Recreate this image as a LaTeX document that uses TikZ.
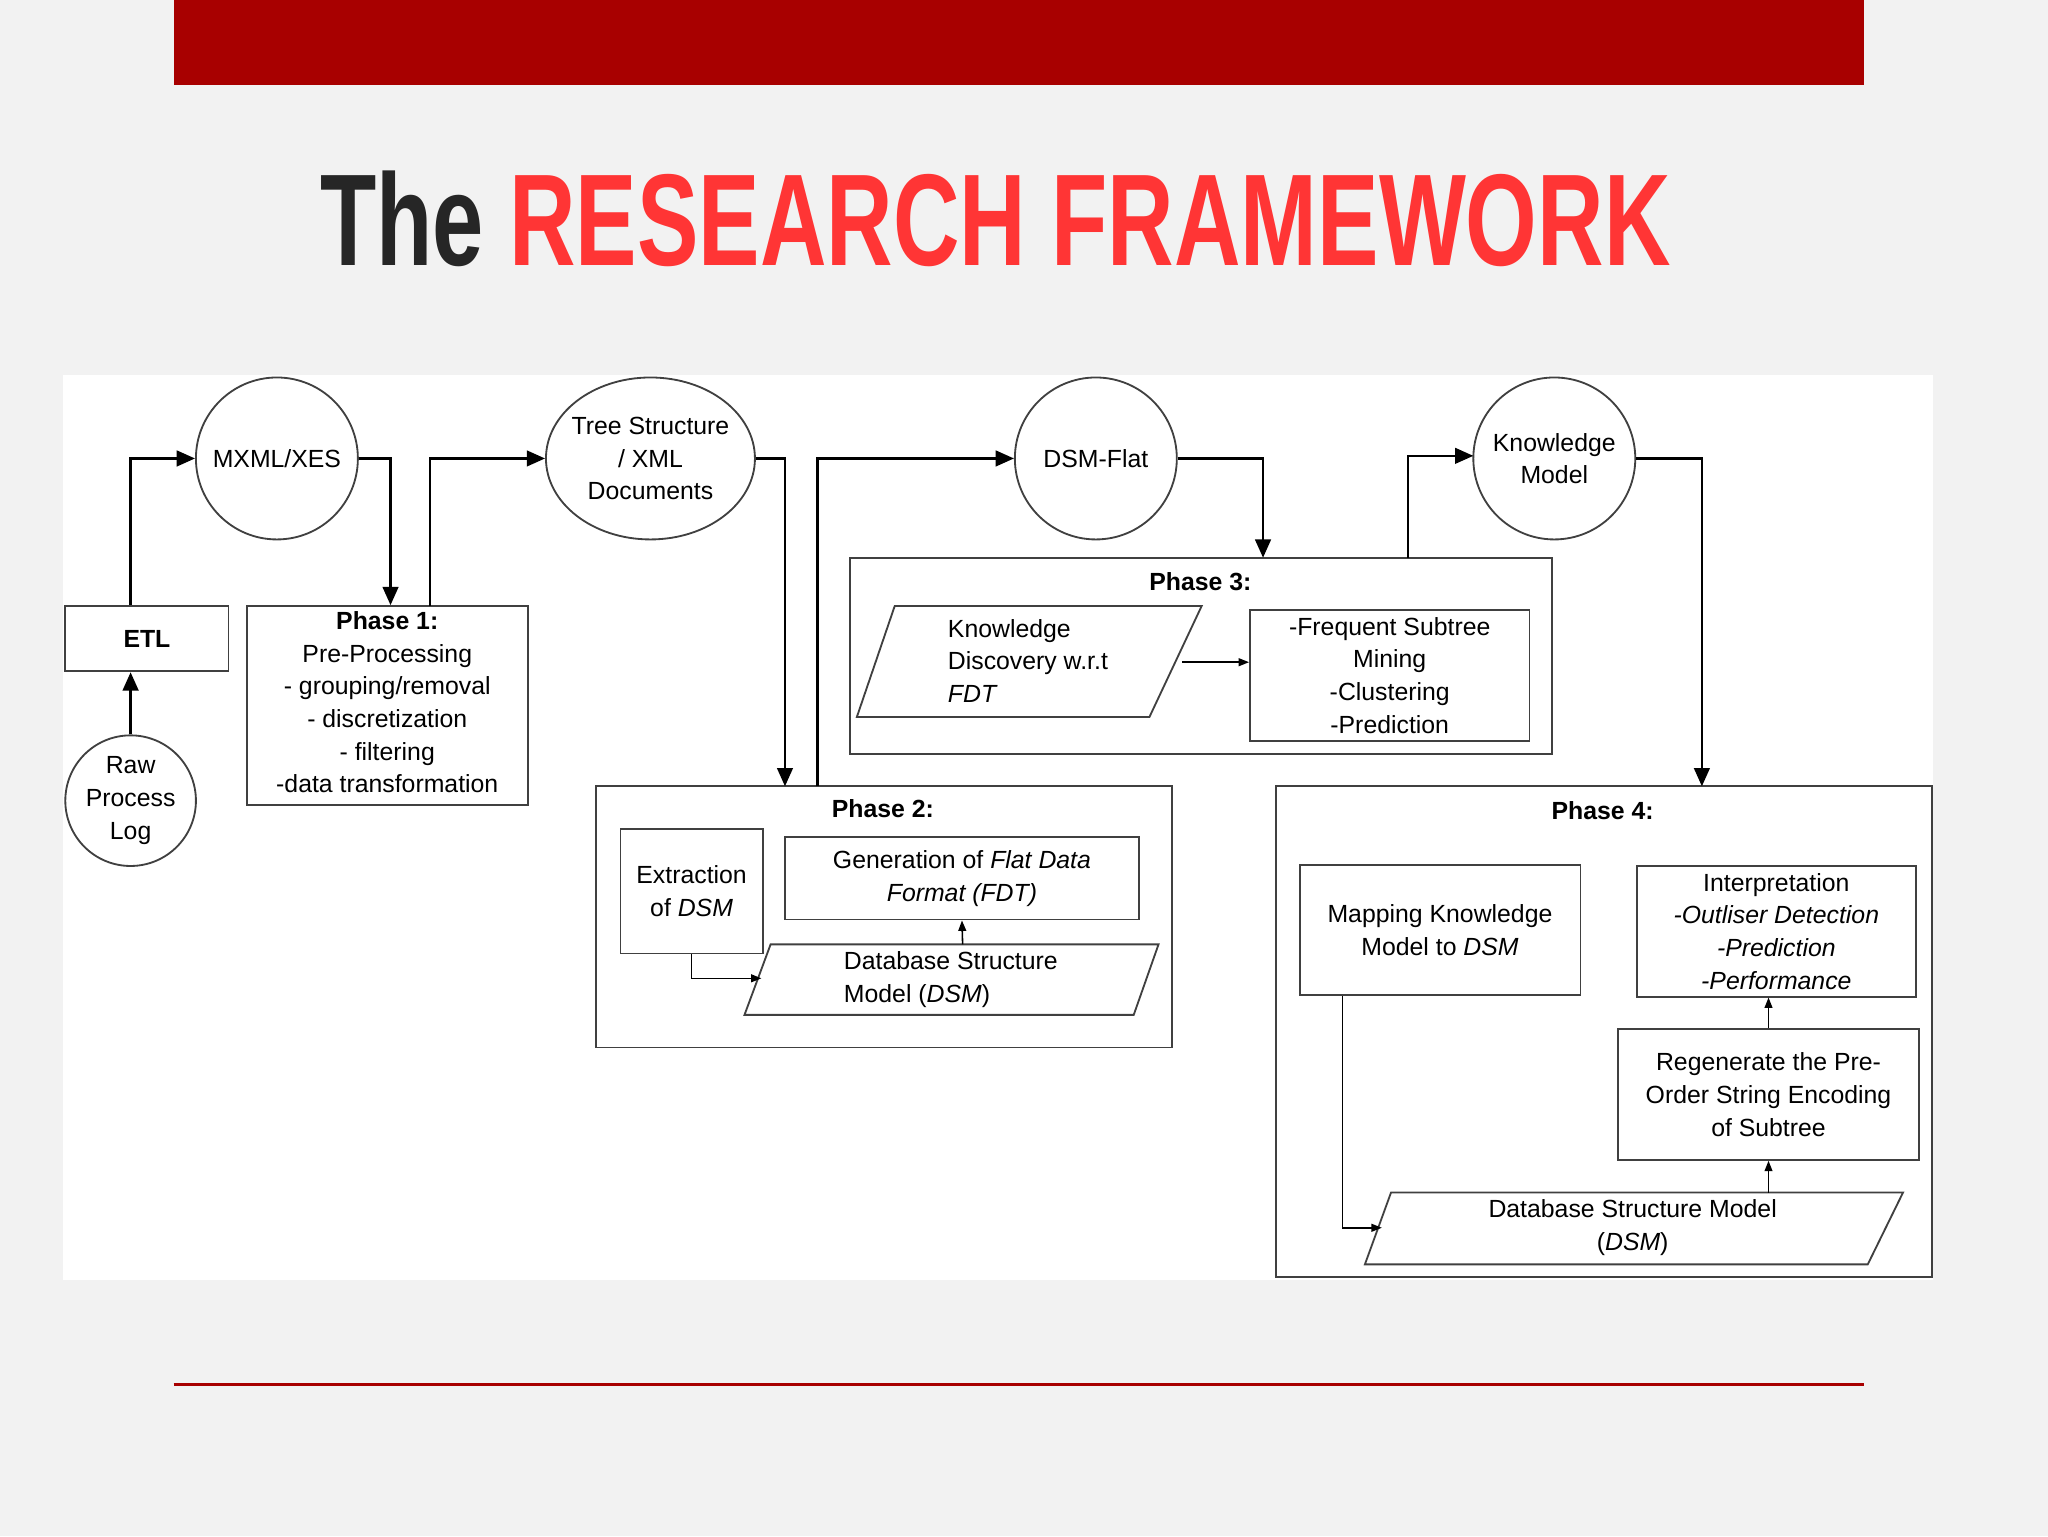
\documentclass[tikz,border=0pt]{standalone}
\usepackage{fontspec}
\setmainfont{Liberation Sans}
\usetikzlibrary{arrows.meta,shapes.geometric}
\definecolor{barred}{HTML}{A80000}
\definecolor{titlered}{HTML}{FF3535}
\begin{document}
\begin{tikzpicture}[x=1pt,y=-1pt,
  box/.style={draw=black!75,line width=1.4pt,align=center,inner sep=0pt,font=\fontsize{19}{25}\selectfont},
  circ/.style={draw=black!75,line width=1.4pt,circle,minimum size=124pt,align=center,inner sep=0pt,font=\fontsize{19}{25}\selectfont},
  txt/.style={align=center,inner sep=0pt,font=\fontsize{19}{25}\selectfont},
  big/.style={line width=1.8pt,-{Triangle[length=14pt,width=12pt]}},
  small/.style={line width=1.2pt,-{Triangle[length=8pt,width=6pt]}}]
\useasboundingbox (0,0) rectangle (1568,1176);
\fill[gray!10] (0,0) rectangle (1568,1176);
\fill[barred] (133,0) rectangle (1427,65);
\draw[barred,line width=3pt] (133,1060) -- (1427,1060);
\node[anchor=base west,inner sep=0pt,font=\bfseries\fontsize{100}{100}\selectfont,xscale=0.705] (title) at (245,203)
  {\color{black!85}The \color{titlered}RESEARCH FRAMEWORK};
\fill[white] (48,287) rectangle (1480,980);

% circles
\node[circ] (mx) at (212,351) {MXML/XES};
\node[box,ellipse,minimum width=160pt,minimum height=124pt,inner sep=-4pt] (tree) at (498,351) {Tree Structure\\/ XML\\Documents};
\node[circ] (dsm) at (839,351) {DSM-Flat};
\node[circ] (km) at (1190,351) {Knowledge\\Model};
\node[circ,minimum size=100pt] (raw) at (100,613) {Raw\\Process\\Log};

% boxes
\node[box,minimum width=125pt,minimum height=50pt,font=\bfseries\fontsize{19}{25}\selectfont] (etl) at (112.5,489) {ETL};
\node[box,minimum width=215pt,minimum height=152pt] (p1) at (296.5,540) {};
\node[txt,anchor=north] at (296.5,468) {\textbf{Phase 1:}\\Pre-Processing\\- grouping/removal\\- discretization\\- filtering\\-data transformation};

\node[box,minimum width=441pt,minimum height=200pt] (p2) at (676.5,702) {};
\node[txt,font=\bfseries\fontsize{19}{25}\selectfont] at (676,619) {Phase 2:};
\node[box,minimum width=109pt,minimum height=95pt] (ext) at (529.5,682.5) {Extraction\\of \textit{DSM}};
\node[box,minimum width=271pt,minimum height=63pt] (gen) at (736.5,672.5) {Generation of \textit{Flat Data}\\\textit{Format (FDT)}};
\draw[black!75,line width=1.4pt] (590,723) -- (887,723) -- (868,777) -- (570,777) -- cycle;
\node[txt,align=left] (db) at (728,750) {Database Structure\\Model (\textit{DSM})};
\coordinate (dbtop) at (737,723);
\coordinate (dbleft) at (583,749);

\node[box,minimum width=537pt,minimum height=150pt] (p3) at (919.5,502) {};
\node[txt,font=\bfseries\fontsize{19}{25}\selectfont] at (919,445) {Phase 3:};
\draw[black!75,line width=1.4pt] (685,464) -- (920,464) -- (880,549) -- (656,549) -- cycle;
\node[txt,align=left] (kd) at (787,506) {Knowledge\\Discovery w.r.t\\\textit{FDT}};
\coordinate (kdr) at (905,507);
\node[box,minimum width=214pt,minimum height=100pt] (fq) at (1064,517) {-Frequent Subtree\\Mining\\-Clustering\\-Prediction};

\node[box,minimum width=502pt,minimum height=376pt] (p4) at (1228,790) {};
\node[txt,font=\bfseries\fontsize{19}{25}\selectfont] at (1227,621) {Phase 4:};
\node[box,minimum width=215pt,minimum height=100pt] (map) at (1102.5,712) {Mapping Knowledge\\Model to \textit{DSM}};
\node[box,minimum width=214pt,minimum height=100pt] (int) at (1360,713) {Interpretation\\\textit{-Outliser Detection}\\\textit{-Prediction}\\\textit{-Performance}};
\node[box,minimum width=230pt,minimum height=100pt] (reg) at (1354,838) {Regenerate the Pre-\\Order String Encoding\\of Subtree};
\draw[black!75,line width=1.4pt] (1065,913) -- (1457,913) -- (1430,968) -- (1045,968) -- cycle;
\node[txt] (db2) at (1250,940) {Database Structure Model\\(\textit{DSM})};
\coordinate (db2top) at (1354,913);
\coordinate (db2left) at (1058,940);

% big arrows
\draw[big] (raw.north) -- (etl.south -| raw.north);
\draw[big] (etl.north -| raw.north) |- (mx.west);
\draw[big] (mx.east) -| (p1.north -| 299,0);
\draw[big] (329,464) |- (tree.west);
\draw[big] (tree.east) -| (601,602);
\draw[big] (626,602) |- (dsm.west);
\draw[big] (dsm.east) -| (967,427);
\draw[big] (1078,427) |- (1128,349);
\draw[big] (km.east) -| (1303,602);
% small arrows
\draw[small] (ext.south) |- (dbleft);
\draw[small] (dbtop) -- (gen.south);
\draw[small] (kdr) -- (fq.west |- kdr);
\draw[small] (map.south -| 1028,0) |- (db2left);
\draw[small] (db2top) -- (reg.south);
\draw[small] (reg.north) -- (int.south -| reg.north);
\end{tikzpicture}
\end{document}
